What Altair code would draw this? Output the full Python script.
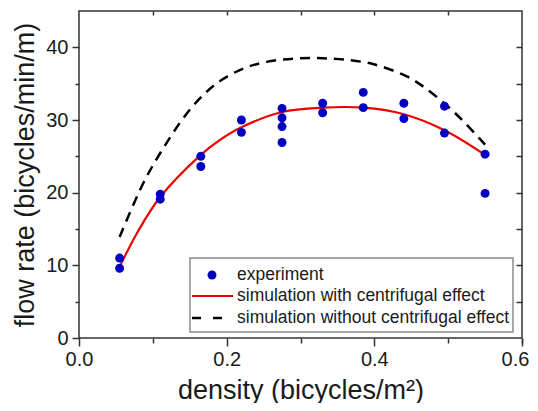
import altair as alt
import pandas as pd

# ---- data ----
exp_density = [0.055, 0.055, 0.11, 0.11, 0.165, 0.165, 0.22, 0.22, 0.275, 0.275, 0.275, 0.275,
               0.33, 0.33, 0.385, 0.385, 0.44, 0.44, 0.495, 0.495, 0.55, 0.55]
exp_flow = [11.0, 9.6, 19.8, 19.1, 25.0, 23.6, 30.0, 28.3, 31.6, 30.3, 29.1, 26.9,
            32.3, 31.0, 33.8, 31.7, 32.3, 30.2, 31.9, 28.2, 25.3, 19.9]

cen_density = [0.055, 0.08, 0.11, 0.165, 0.19, 0.22, 0.275, 0.33, 0.385, 0.44, 0.495, 0.55]
cen_flow = [9.8, 14.7, 19.4, 25.2, 27.2, 29.0, 31.1, 31.7, 31.7, 30.8, 28.6, 25.2]

nocen_density = [0.055, 0.087, 0.114, 0.146, 0.171, 0.193, 0.223, 0.254, 0.30, 0.33, 0.36,
                 0.398, 0.444, 0.469, 0.498, 0.52, 0.542, 0.55]
nocen_flow = [13.9, 21.3, 26.1, 30.9, 33.7, 35.5, 37.1, 38.0, 38.5, 38.5, 38.3,
              37.7, 36.0, 34.4, 32.0, 29.9, 27.5, 26.6]

x_major = [0.0, 0.2, 0.4, 0.6]
x_minor = [0.1, 0.3, 0.5, 0.6]
x_top = [0.1, 0.2, 0.3, 0.4, 0.5]
y_major = [0, 10, 20, 30, 40]
y_minor = [5, 15, 25, 35]
y_right = [5, 10, 15, 20, 25, 30, 35, 40]

legend_labels = ["experiment", "simulation with centrifugal effect",
                 "simulation without centrifugal effect"]
x_title = "density (bicycles/m²)"
y_title = "flow rate (bicycles/min/m)"

# ---- chart ----
FONT = "Liberation Sans"
W, H = 443, 327
BLUE = "#0000C0"
RED = "#EE0000"

exp_df = pd.DataFrame({"density": exp_density, "flow": exp_flow})
cen_df = pd.DataFrame({"density": cen_density, "flow": cen_flow})
nocen_df = pd.DataFrame({"density": nocen_density, "flow": nocen_flow})

xs = alt.Scale(domain=[0, 0.6], nice=False, zero=False)
ys = alt.Scale(domain=[0, 45], nice=False)

common = dict(grid=False, domain=False, tickColor="#333333", tickWidth=1.5,
              labelFlush=False, labelFont=FONT, titleFont=FONT,
              labelColor="#1a1a1a", titleColor="#1a1a1a")

# major bottom axis: labels 0.0 / 0.2 / 0.4 (0.6 is drawn by the minor axis, nudged inside)
ax_bottom = alt.Axis(orient="bottom", values=x_major, tickSize=8,
                     labelExpr="datum.value > 0.55 ? '' : format(datum.value, '.1f')",
                     labelFontSize=20, labelPadding=3, title=x_title, titleFontSize=27,
                     titleFontWeight="normal", titleBaseline="alphabetic",
                     titleX=W / 2, titleY=60, **common)
ax_left = alt.Axis(orient="left", values=y_major, format="d", tickSize=7,
                   labelFontSize=20, labelPadding=4, title=y_title, titleFontSize=27,
                   titleFontWeight="normal", titleBaseline="alphabetic",
                   titleX=-46, titleY=H / 2, **common)
ax_bottom_minor = alt.Axis(orient="bottom", values=x_minor, tickSize=5,
                           labelExpr="datum.value > 0.55 ? format(datum.value, '.1f') : ''",
                           labelFontSize=20, labelPadding=6, labelOffset=-7,
                           title=None, **common)
ax_left_minor = alt.Axis(orient="left", values=y_minor, tickSize=4, labels=False,
                         title=None, **common)
ax_top = alt.Axis(orient="top", values=x_top, tickSize=4, offset=-4, labels=False,
                  title=None, **common)
ax_right = alt.Axis(orient="right", values=y_right, tickSize=6, offset=-6, labels=False,
                    title=None, **common)

nocen = alt.Chart(nocen_df).mark_line(
    color="black", strokeWidth=2.5, strokeDash=[10, 7], interpolate="catmull-rom"
).encode(
    x=alt.X("density:Q", scale=xs, axis=ax_top),
    y=alt.Y("flow:Q", scale=ys, axis=ax_right),
)

cen = alt.Chart(cen_df).mark_line(
    color=RED, strokeWidth=2.2, interpolate="catmull-rom"
).encode(
    x=alt.X("density:Q", scale=xs, axis=ax_bottom_minor),
    y=alt.Y("flow:Q", scale=ys, axis=ax_left_minor),
)

pts = alt.Chart(exp_df).mark_circle(size=80, color=BLUE, opacity=1).encode(
    x=alt.X("density:Q", scale=xs, axis=ax_bottom),
    y=alt.Y("flow:Q", scale=ys, axis=ax_left),
)

# ---- legend (inside the plot) ----
lg = pd.DataFrame({"label": legend_labels})
box = alt.Chart(lg.head(1)).mark_rect(fill="white", stroke="#8c8c8c", strokeWidth=1.5).encode(
    x=alt.value(111), x2=alt.value(434), y=alt.value(247), y2=alt.value(321))
dot = alt.Chart(lg.head(1)).mark_circle(size=80, color=BLUE, opacity=1).encode(
    x=alt.value(133), y=alt.value(264))
red_key = alt.Chart(lg.head(1)).mark_rule(color=RED, strokeWidth=2.2).encode(
    x=alt.value(113), x2=alt.value(154), y=alt.value(285))
dash_key = alt.Chart(lg.head(1)).mark_rule(color="black", strokeWidth=2.5,
                                           strokeDash=[9, 12]).encode(
    x=alt.value(113), x2=alt.value(154), y=alt.value(307))


def legend_text(i, ypix):
    return alt.Chart(lg.iloc[[i]]).mark_text(
        align="left", baseline="middle", font=FONT, fontSize=17.5, color="#1a1a1a"
    ).encode(x=alt.value(158), y=alt.value(ypix), text="label:N")


chart = alt.layer(
    nocen, cen, pts, box, dot, red_key, dash_key,
    legend_text(0, 264), legend_text(1, 285), legend_text(2, 307),
).resolve_axis(
    x="independent", y="independent"
).properties(
    width=W, height=H,
    padding={"left": 71, "top": 3, "right": 8, "bottom": 65},
    autosize=alt.AutoSizeParams(type="none"),
).configure_view(
    stroke="#333333", strokeWidth=1.5
)

chart.save("out.html", embed_options={"renderer": "svg", "actions": False})
